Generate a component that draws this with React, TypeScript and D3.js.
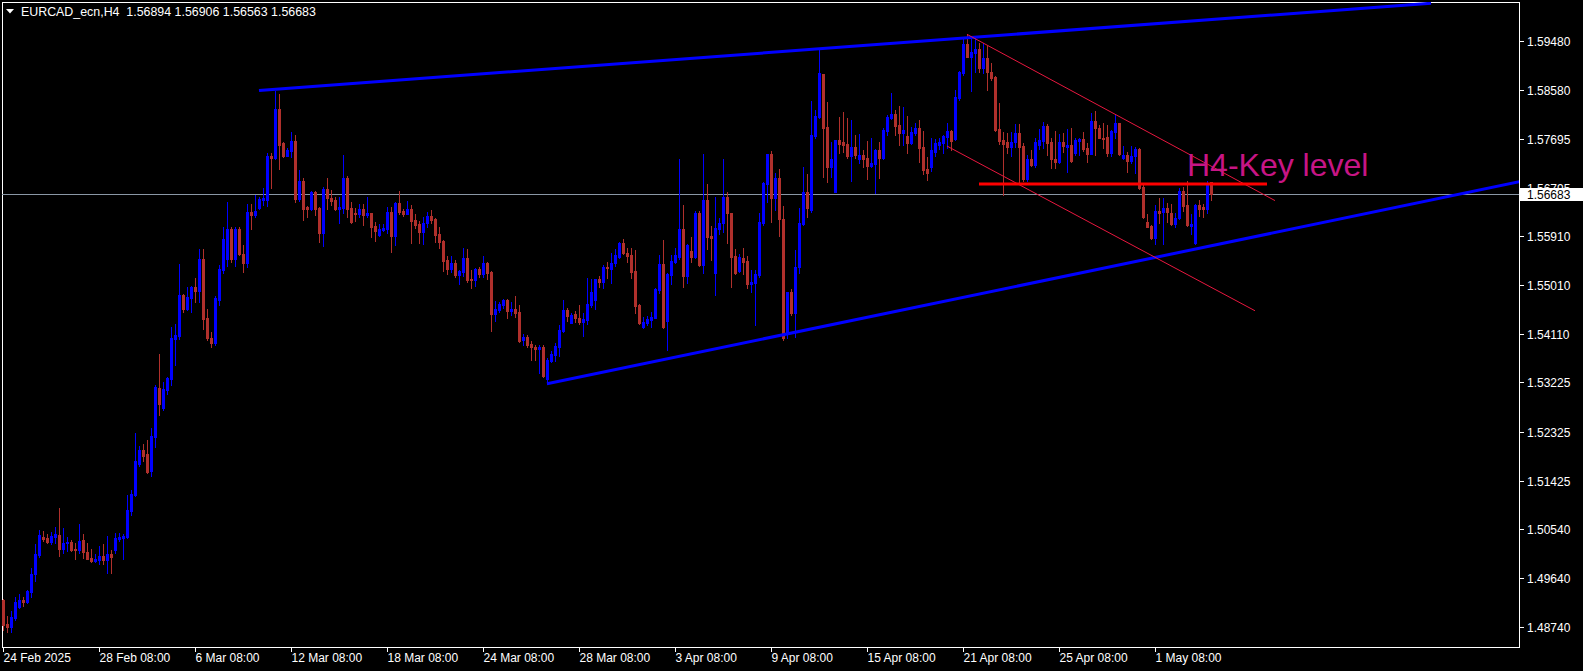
import React from 'react';
import * as d3 from 'd3';

const W = 1583;
const H = 671;

const title = 'EURCAD_ecn,H4';
const headerOHLC = ['1.56894', '1.56906', '1.56563', '1.56683'];
const lastPrice = 1.56683;

const dateLabels = [
  '24 Feb 2025', '28 Feb 08:00', '6 Mar 08:00', '12 Mar 08:00', '18 Mar 08:00', '24 Mar 08:00',
  '28 Mar 08:00', '3 Apr 08:00', '9 Apr 08:00', '15 Apr 08:00', '21 Apr 08:00', '25 Apr 08:00', '1 May 08:00',
];
const barsPerLabel = 24;

const priceTicks = [1.5948, 1.5858, 1.57695, 1.56795, 1.5591, 1.5501, 1.5411, 1.53225, 1.52325, 1.51425, 1.5054, 1.4964, 1.4874];

const open = [
  1.4924, 1.4880, 1.4874, 1.4891, 1.4911, 1.4924, 1.4920, 1.4938, 1.4971, 1.5006,
  1.5039, 1.5037, 1.5030, 1.5039, 1.5043, 1.5017, 1.5028, 1.5030, 1.5017, 1.5015,
  1.5034, 1.5012, 1.5001, 1.4995, 1.4997, 1.5004, 1.4997, 1.5008, 1.5015, 1.5035,
  1.5037, 1.5039, 1.5087, 1.5116, 1.5173, 1.5199, 1.5191, 1.5160, 1.5223, 1.5312,
  1.5276, 1.5309, 1.5329, 1.5402, 1.5408, 1.5483, 1.5457, 1.5477, 1.5498, 1.5490,
  1.5549, 1.5441, 1.5404, 1.5395, 1.5474, 1.5529, 1.5549, 1.5604, 1.5549, 1.5604,
  1.5558, 1.5542, 1.5635, 1.5630, 1.5643, 1.5657, 1.5657, 1.5738, 1.5734, 1.5824,
  1.5762, 1.5738, 1.5747, 1.5765, 1.5659, 1.5692, 1.5644, 1.5641, 1.5672, 1.5643,
  1.5597, 1.5677, 1.5661, 1.5657, 1.5641, 1.5643, 1.5698, 1.5643, 1.5633, 1.5632,
  1.5641, 1.5630, 1.5633, 1.5610, 1.5593, 1.5602, 1.5604, 1.5635, 1.5591, 1.5652,
  1.5637, 1.5632, 1.5641, 1.5621, 1.5613, 1.5598, 1.5615, 1.5628, 1.5622, 1.5595,
  1.5582, 1.5547, 1.5531, 1.5542, 1.5520, 1.5525, 1.5551, 1.5512, 1.5510, 1.5531,
  1.5521, 1.5542, 1.5525, 1.5448, 1.5455, 1.5465, 1.5474, 1.5454, 1.5457, 1.5452,
  1.5400, 1.5406, 1.5393, 1.5388, 1.5384, 1.5388, 1.5329, 1.5362, 1.5373, 1.5388,
  1.5417, 1.5455, 1.5432, 1.5448, 1.5441, 1.5434, 1.5437, 1.5465, 1.5474, 1.5512,
  1.5507, 1.5534, 1.5531, 1.5542, 1.5553, 1.5578, 1.5560, 1.5556, 1.5527, 1.5465,
  1.5424, 1.5432, 1.5437, 1.5441, 1.5492, 1.5540, 1.5435, 1.5520, 1.5544, 1.5553,
  1.5604, 1.5518, 1.5564, 1.5553, 1.5633, 1.5538, 1.5657, 1.5591, 1.5523, 1.5604,
  1.5615, 1.5663, 1.5633, 1.5555, 1.5527, 1.5551, 1.5545, 1.5503, 1.5505, 1.5520,
  1.5615, 1.5687, 1.5742, 1.5661, 1.5698, 1.5622, 1.5413, 1.5488, 1.5450, 1.5534,
  1.5613, 1.5672, 1.5639, 1.5775, 1.5809, 1.5888, 1.5791, 1.5718, 1.5672, 1.5767,
  1.5764, 1.5760, 1.5738, 1.5754, 1.5732, 1.5740, 1.5734, 1.5720, 1.5723, 1.5749,
  1.5734, 1.5784, 1.5808, 1.5815, 1.5795, 1.5780, 1.5775, 1.5762, 1.5780, 1.5789,
  1.5754, 1.5714, 1.5718, 1.5745, 1.5758, 1.5762, 1.5773, 1.5784, 1.5769, 1.5844,
  1.5890, 1.5943, 1.5920, 1.5927, 1.5934, 1.5899, 1.5917, 1.5892, 1.5883, 1.5787,
  1.5767, 1.5764, 1.5754, 1.5764, 1.5780, 1.5756, 1.5696, 1.5732, 1.5721, 1.5758,
  1.5765, 1.5793, 1.5764, 1.5732, 1.5727, 1.5764, 1.5754, 1.5758, 1.5743, 1.5765,
  1.5769, 1.5753, 1.5742, 1.5802, 1.5789, 1.5771, 1.5773, 1.5743, 1.5782, 1.5798,
  1.5734, 1.5740, 1.5729, 1.5738, 1.5751, 1.5681, 1.5617, 1.5610, 1.5588, 1.5637,
  1.5635, 1.5643, 1.5633, 1.5613, 1.5624, 1.5674, 1.5648, 1.5610, 1.5578, 1.5648,
  1.5644, 1.5641, 1.56894,
];

const high = [
  1.4926, 1.4894, 1.4903, 1.4929, 1.4935, 1.4929, 1.4942, 1.4982, 1.5026, 1.5052,
  1.5050, 1.5045, 1.5048, 1.5057, 1.5092, 1.5056, 1.5039, 1.5034, 1.5028, 1.5063,
  1.5045, 1.5028, 1.5017, 1.5008, 1.5023, 1.5026, 1.5041, 1.5015, 1.5046, 1.5046,
  1.5045, 1.5116, 1.5125, 1.5230, 1.5206, 1.5210, 1.5217, 1.5239, 1.5318, 1.5375,
  1.5323, 1.5333, 1.5424, 1.5430, 1.5540, 1.5484, 1.5498, 1.5499, 1.5514, 1.5567,
  1.5567, 1.5457, 1.5415, 1.5481, 1.5538, 1.5608, 1.5654, 1.5608, 1.5608, 1.5608,
  1.5575, 1.5650, 1.5650, 1.5666, 1.5663, 1.5679, 1.5743, 1.5743, 1.5857, 1.5852,
  1.5764, 1.5753, 1.5782, 1.5776, 1.5712, 1.5698, 1.5646, 1.5673, 1.5673, 1.5644,
  1.5681, 1.5698, 1.5676, 1.5663, 1.5663, 1.5740, 1.5701, 1.5654, 1.5643, 1.5650,
  1.5650, 1.5663, 1.5634, 1.5617, 1.5613, 1.5613, 1.5644, 1.5644, 1.5653, 1.5674,
  1.5641, 1.5655, 1.5648, 1.5632, 1.5619, 1.5626, 1.5635, 1.5639, 1.5624, 1.5608,
  1.5583, 1.5554, 1.5554, 1.5547, 1.5529, 1.5569, 1.5567, 1.5529, 1.5532, 1.5534,
  1.5554, 1.5543, 1.5527, 1.5472, 1.5470, 1.5476, 1.5476, 1.5470, 1.5481, 1.5465,
  1.5411, 1.5410, 1.5399, 1.5391, 1.5391, 1.5391, 1.5367, 1.5380, 1.5395, 1.5428,
  1.5474, 1.5459, 1.5450, 1.5454, 1.5465, 1.5450, 1.5514, 1.5512, 1.5513, 1.5518,
  1.5538, 1.5544, 1.5560, 1.5567, 1.5580, 1.5586, 1.5569, 1.5569, 1.5566, 1.5466,
  1.5443, 1.5445, 1.5452, 1.5495, 1.5556, 1.5584, 1.5523, 1.5556, 1.5569, 1.5732,
  1.5648, 1.5577, 1.5589, 1.5637, 1.5637, 1.5742, 1.5687, 1.5610, 1.5663, 1.5624,
  1.5732, 1.5672, 1.5634, 1.5567, 1.5558, 1.5569, 1.5555, 1.5529, 1.5529, 1.5633,
  1.5690, 1.5742, 1.5747, 1.5707, 1.5714, 1.5646, 1.5489, 1.5494, 1.5565, 1.5643,
  1.5718, 1.5705, 1.5839, 1.5822, 1.5932, 1.5889, 1.5837, 1.5764, 1.5768, 1.5809,
  1.5819, 1.5808, 1.5804, 1.5776, 1.5778, 1.5749, 1.5765, 1.5771, 1.5750, 1.5764,
  1.5789, 1.5813, 1.5853, 1.5822, 1.5830, 1.5828, 1.5811, 1.5791, 1.5798, 1.5804,
  1.5784, 1.5736, 1.5771, 1.5769, 1.5771, 1.5776, 1.5798, 1.5785, 1.5859, 1.5893,
  1.5954, 1.5962, 1.5954, 1.5954, 1.5945, 1.5945, 1.5940, 1.5909, 1.5884, 1.5835,
  1.5782, 1.5780, 1.5782, 1.5797, 1.5797, 1.5762, 1.5740, 1.5749, 1.5771, 1.5787,
  1.5800, 1.5797, 1.5771, 1.5784, 1.5778, 1.5780, 1.5787, 1.5789, 1.5771, 1.5771,
  1.5782, 1.5762, 1.5817, 1.5820, 1.5795, 1.5798, 1.5795, 1.5785, 1.5813, 1.5799,
  1.5756, 1.5745, 1.5756, 1.5754, 1.5753, 1.5685, 1.5632, 1.5611, 1.5648, 1.5661,
  1.5661, 1.5652, 1.5650, 1.5633, 1.5679, 1.5681, 1.5692, 1.5632, 1.5649, 1.5657,
  1.5650, 1.5692, 1.56906,
];

const low = [
  1.4869, 1.4865, 1.4865, 1.4887, 1.4909, 1.4913, 1.4918, 1.4929, 1.4958, 1.5002,
  1.5032, 1.5028, 1.5026, 1.5028, 1.5004, 1.5010, 1.5013, 1.5013, 1.4999, 1.5010,
  1.5001, 1.4998, 1.4993, 1.4993, 1.4990, 1.4990, 1.4973, 1.4973, 1.5010, 1.5032,
  1.4999, 1.5038, 1.5079, 1.5114, 1.5169, 1.5179, 1.5156, 1.5151, 1.5204, 1.5263,
  1.5272, 1.5301, 1.5318, 1.5355, 1.5402, 1.5452, 1.5455, 1.5452, 1.5470, 1.5470,
  1.5421, 1.5400, 1.5388, 1.5391, 1.5465, 1.5523, 1.5536, 1.5543, 1.5536, 1.5556,
  1.5525, 1.5534, 1.5604, 1.5626, 1.5641, 1.5648, 1.5646, 1.5679, 1.5733, 1.5714,
  1.5736, 1.5737, 1.5736, 1.5654, 1.5655, 1.5621, 1.5626, 1.5639, 1.5630, 1.5580,
  1.5573, 1.5641, 1.5648, 1.5639, 1.5615, 1.5633, 1.5626, 1.5615, 1.5619, 1.5626,
  1.5611, 1.5626, 1.5589, 1.5582, 1.5592, 1.5600, 1.5597, 1.5562, 1.5575, 1.5632,
  1.5628, 1.5631, 1.5578, 1.5606, 1.5578, 1.5577, 1.5608, 1.5615, 1.5580, 1.5569,
  1.5527, 1.5521, 1.5525, 1.5516, 1.5503, 1.5518, 1.5507, 1.5496, 1.5499, 1.5516,
  1.5516, 1.5512, 1.5417, 1.5435, 1.5452, 1.5459, 1.5441, 1.5446, 1.5443, 1.5397,
  1.5391, 1.5388, 1.5364, 1.5364, 1.5340, 1.5333, 1.5320, 1.5360, 1.5362, 1.5371,
  1.5415, 1.5435, 1.5431, 1.5433, 1.5430, 1.5408, 1.5430, 1.5461, 1.5457, 1.5498,
  1.5496, 1.5514, 1.5505, 1.5536, 1.5551, 1.5558, 1.5544, 1.5514, 1.5450, 1.5430,
  1.5423, 1.5428, 1.5424, 1.5440, 1.5487, 1.5423, 1.5382, 1.5503, 1.5542, 1.5549,
  1.5498, 1.5505, 1.5544, 1.5551, 1.5536, 1.5523, 1.5567, 1.5547, 1.5483, 1.5595,
  1.5599, 1.5578, 1.5498, 1.5522, 1.5525, 1.5522, 1.5496, 1.5489, 1.5428, 1.5516,
  1.5611, 1.5654, 1.5617, 1.5639, 1.5591, 1.5400, 1.5404, 1.5446, 1.5406, 1.5523,
  1.5612, 1.5626, 1.5635, 1.5771, 1.5808, 1.5699, 1.5690, 1.5699, 1.5671, 1.5743,
  1.5745, 1.5734, 1.5692, 1.5734, 1.5725, 1.5718, 1.5696, 1.5718, 1.5670, 1.5698,
  1.5732, 1.5776, 1.5806, 1.5776, 1.5758, 1.5758, 1.5743, 1.5760, 1.5776, 1.5727,
  1.5705, 1.5694, 1.5710, 1.5738, 1.5751, 1.5743, 1.5753, 1.5749, 1.5768, 1.5841,
  1.5887, 1.5919, 1.5857, 1.5892, 1.5892, 1.5890, 1.5859, 1.5877, 1.5784, 1.5760,
  1.5666, 1.5743, 1.5738, 1.5754, 1.5690, 1.5692, 1.5692, 1.5720, 1.5718, 1.5751,
  1.5753, 1.5740, 1.5716, 1.5716, 1.5725, 1.5745, 1.5709, 1.5727, 1.5740, 1.5740,
  1.5747, 1.5727, 1.5741, 1.5740, 1.5770, 1.5753, 1.5738, 1.5738, 1.5771, 1.5740,
  1.5733, 1.5709, 1.5725, 1.5707, 1.5678, 1.5624, 1.5607, 1.5586, 1.5577, 1.5615,
  1.5577, 1.5617, 1.5612, 1.5608, 1.5623, 1.5637, 1.5610, 1.5595, 1.5577, 1.5628,
  1.5626, 1.5633, 1.56563,
];

const close = [
  1.4878, 1.4874, 1.4892, 1.4920, 1.4924, 1.4920, 1.4940, 1.4971, 1.5008, 1.5043,
  1.5035, 1.5030, 1.5041, 1.5045, 1.5017, 1.5028, 1.5030, 1.5015, 1.5015, 1.5032,
  1.5012, 1.4999, 1.4995, 1.4999, 1.5004, 1.4997, 1.5008, 1.5002, 1.5037, 1.5039,
  1.5041, 1.5089, 1.5118, 1.5179, 1.5199, 1.5188, 1.5158, 1.5224, 1.5314, 1.5283,
  1.5311, 1.5331, 1.5404, 1.5410, 1.5483, 1.5457, 1.5479, 1.5498, 1.5490, 1.5549,
  1.5439, 1.5404, 1.5395, 1.5477, 1.5531, 1.5586, 1.5604, 1.5549, 1.5604, 1.5558,
  1.5542, 1.5635, 1.5630, 1.5637, 1.5659, 1.5661, 1.5738, 1.5734, 1.5824, 1.5758,
  1.5738, 1.5749, 1.5765, 1.5659, 1.5692, 1.5641, 1.5641, 1.5672, 1.5641, 1.5597,
  1.5677, 1.5661, 1.5655, 1.5641, 1.5644, 1.5698, 1.5641, 1.5617, 1.5632, 1.5641,
  1.5630, 1.5633, 1.5608, 1.5600, 1.5604, 1.5606, 1.5635, 1.5591, 1.5652, 1.5635,
  1.5632, 1.5641, 1.5619, 1.5611, 1.5598, 1.5615, 1.5628, 1.5621, 1.5593, 1.5580,
  1.5545, 1.5531, 1.5542, 1.5520, 1.5527, 1.5551, 1.5510, 1.5510, 1.5531, 1.5521,
  1.5542, 1.5523, 1.5448, 1.5457, 1.5467, 1.5474, 1.5454, 1.5457, 1.5450, 1.5399,
  1.5406, 1.5391, 1.5388, 1.5384, 1.5388, 1.5334, 1.5364, 1.5375, 1.5389, 1.5419,
  1.5455, 1.5444, 1.5446, 1.5441, 1.5434, 1.5439, 1.5467, 1.5489, 1.5512, 1.5507,
  1.5534, 1.5532, 1.5542, 1.5556, 1.5578, 1.5560, 1.5555, 1.5525, 1.5463, 1.5432,
  1.5434, 1.5439, 1.5443, 1.5494, 1.5540, 1.5424, 1.5522, 1.5545, 1.5556, 1.5604,
  1.5518, 1.5575, 1.5553, 1.5633, 1.5538, 1.5657, 1.5589, 1.5588, 1.5606, 1.5615,
  1.5663, 1.5633, 1.5553, 1.5523, 1.5553, 1.5544, 1.5503, 1.5507, 1.5522, 1.5617,
  1.5688, 1.5742, 1.5661, 1.5698, 1.5622, 1.5404, 1.5488, 1.5450, 1.5534, 1.5615,
  1.5672, 1.5643, 1.5776, 1.5811, 1.5890, 1.5789, 1.5718, 1.5732, 1.5767, 1.5760,
  1.5758, 1.5738, 1.5754, 1.5740, 1.5740, 1.5732, 1.5720, 1.5725, 1.5749, 1.5734,
  1.5786, 1.5809, 1.5815, 1.5793, 1.5780, 1.5786, 1.5762, 1.5782, 1.5789, 1.5753,
  1.5712, 1.5707, 1.5749, 1.5762, 1.5764, 1.5775, 1.5784, 1.5765, 1.5846, 1.5892,
  1.5943, 1.5920, 1.5929, 1.5934, 1.5899, 1.5917, 1.5892, 1.5881, 1.5786, 1.5765,
  1.5760, 1.5754, 1.5764, 1.5780, 1.5754, 1.5696, 1.5732, 1.5721, 1.5764, 1.5767,
  1.5793, 1.5762, 1.5732, 1.5727, 1.5764, 1.5756, 1.5758, 1.5729, 1.5767, 1.5769,
  1.5751, 1.5742, 1.5802, 1.5789, 1.5771, 1.5769, 1.5743, 1.5784, 1.5798, 1.5742,
  1.5740, 1.5729, 1.5738, 1.5751, 1.5679, 1.5626, 1.5608, 1.5588, 1.5637, 1.5633,
  1.5643, 1.5635, 1.5613, 1.5624, 1.5674, 1.5646, 1.5611, 1.5613, 1.5648, 1.5641,
  1.5641, 1.5689, 1.56683,
];

// Objects drawn on the chart, given as [bar index, price]
const upperTrend: [number, number][] = [[64, 1.5858], [357, 1.6018]];
const lowerTrend: [number, number][] = [[136, 1.532], [380, 1.5692]];
const channelUpper: [number, number][] = [[241, 1.5961], [318, 1.5656]];
const channelLower: [number, number][] = [[236, 1.5756], [313, 1.5454]];
const keyLevel = { from: 244, to: 316, price: 1.56865 };
const keyLabel = { bar: 296, price: 1.5701, text: 'H4-Key level' };

const BULL = '#0000ff';
const BEAR = '#b0302c';

const plot = { left: 2, top: 2, right: 1519, bottom: 647 };

export default function App() {
  const x = d3.scaleLinear().domain([0, 379]).range([3, 1519]);
  const y = d3.scaleLinear().domain([1.4874, 1.5948]).range([627, 41.4]);
  const idx = d3.range(open.length);
  const font = '"Liberation Sans", Arial, sans-serif';
  const line = (pts: [number, number][]) =>
    d3.line<[number, number]>().x((d) => x(d[0])).y((d) => y(d[1]))(pts) || '';

  return (
    <svg
      width={W}
      height={H}
      style={{ position: 'absolute', left: 0, top: 0, background: '#000' }}
      xmlns="http://www.w3.org/2000/svg"
    >
      <defs>
        <clipPath id="plotClip">
          <rect x={plot.left} y={plot.top} width={plot.right - plot.left} height={plot.bottom - plot.top} />
        </clipPath>
      </defs>
      <rect x={0} y={0} width={W} height={H} fill="#000" />

      {/* frame */}
      <rect
        x={plot.left + 0.5}
        y={plot.top + 0.5}
        width={plot.right - plot.left}
        height={plot.bottom - plot.top}
        fill="none"
        stroke="#fff"
        strokeWidth={1}
        shapeRendering="crispEdges"
      />

      {/* bid line */}
      <line
        x1={plot.left}
        x2={plot.right}
        y1={Math.round(y(lastPrice)) + 0.5}
        y2={Math.round(y(lastPrice)) + 0.5}
        stroke="#8a97a5"
        strokeWidth={1}
        shapeRendering="crispEdges"
      />

      {/* candles */}
      <g shapeRendering="crispEdges" clipPath="url(#plotClip)">
        {idx.map((i) => {
          const cx = Math.round(x(i));
          const up = close[i] >= open[i];
          const col = up ? BULL : BEAR;
          const top = Math.round(y(Math.max(open[i], close[i])));
          const bot = Math.round(y(Math.min(open[i], close[i])));
          const hy = Math.round(y(high[i]));
          const ly = Math.round(y(low[i]));
          return (
            <g key={i}>
              <rect x={cx} y={hy} width={1} height={Math.max(1, ly - hy + 1)} fill={col} />
              <rect x={cx - 1} y={top} width={3} height={Math.max(1, bot - top + 1)} fill={col} />
            </g>
          );
        })}
      </g>

      {/* chart objects */}
      <g clipPath="url(#plotClip)">
        <path d={line(upperTrend)} stroke="#0000ff" strokeWidth={3} fill="none" />
        <path d={line(lowerTrend)} stroke="#0000ff" strokeWidth={3} fill="none" />
        <path d={line(channelUpper)} stroke="#e8173f" strokeWidth={1} fill="none" />
        <path d={line(channelLower)} stroke="#e8173f" strokeWidth={1} fill="none" />
        <line
          x1={x(keyLevel.from)}
          x2={x(keyLevel.to)}
          y1={y(keyLevel.price)}
          y2={y(keyLevel.price)}
          stroke="#ff0000"
          strokeWidth={3}
        />
        <text
          x={x(keyLabel.bar)}
          y={y(keyLabel.price)}
          fill="#c71585"
          fontFamily={font}
          fontSize={32}
        >
          {keyLabel.text}
        </text>
      </g>

      {/* header */}
      <path d="M6,9 L14,9 L10,13.5 Z" fill="#fff" />
      <text x={21} y={16} fill="#fff" fontFamily={font} fontSize={12.4}>
        {title + '\u00a0\u00a0' + headerOHLC.join(' ')}
      </text>

      {/* bottom axis */}
      <g shapeRendering="crispEdges">
        {dateLabels.map((lab, k) => {
          const tx = Math.round(x(k * barsPerLabel)) + 0.5;
          return (
            <g key={lab}>
              <line x1={tx} x2={tx} y1={plot.bottom} y2={plot.bottom + 5} stroke="#fff" />
              <text x={tx} y={662} fill="#fff" fontFamily={font} fontSize={12}>
                {lab}
              </text>
            </g>
          );
        })}
      </g>

      {/* right axis */}
      <g>
        {priceTicks.map((p) => {
          const ty = Math.round(y(p)) + 0.5;
          return (
            <g key={p}>
              <line x1={plot.right} x2={plot.right + 5} y1={ty} y2={ty} stroke="#fff" shapeRendering="crispEdges" />
              <text x={1527} y={ty} dy="0.35em" fill="#fff" fontFamily={font} fontSize={12}>
                {p.toFixed(5)}
              </text>
            </g>
          );
        })}
        <rect
          x={plot.right + 1}
          y={Math.round(y(lastPrice)) - 6}
          width={W - plot.right - 1}
          height={13}
          fill="#fff"
          shapeRendering="crispEdges"
        />
        <text
          x={1527}
          y={Math.round(y(lastPrice)) + 0.5}
          dy="0.35em"
          fill="#000"
          fontFamily={font}
          fontSize={12}
        >
          {lastPrice.toFixed(5)}
        </text>
      </g>
    </svg>
  );
}
